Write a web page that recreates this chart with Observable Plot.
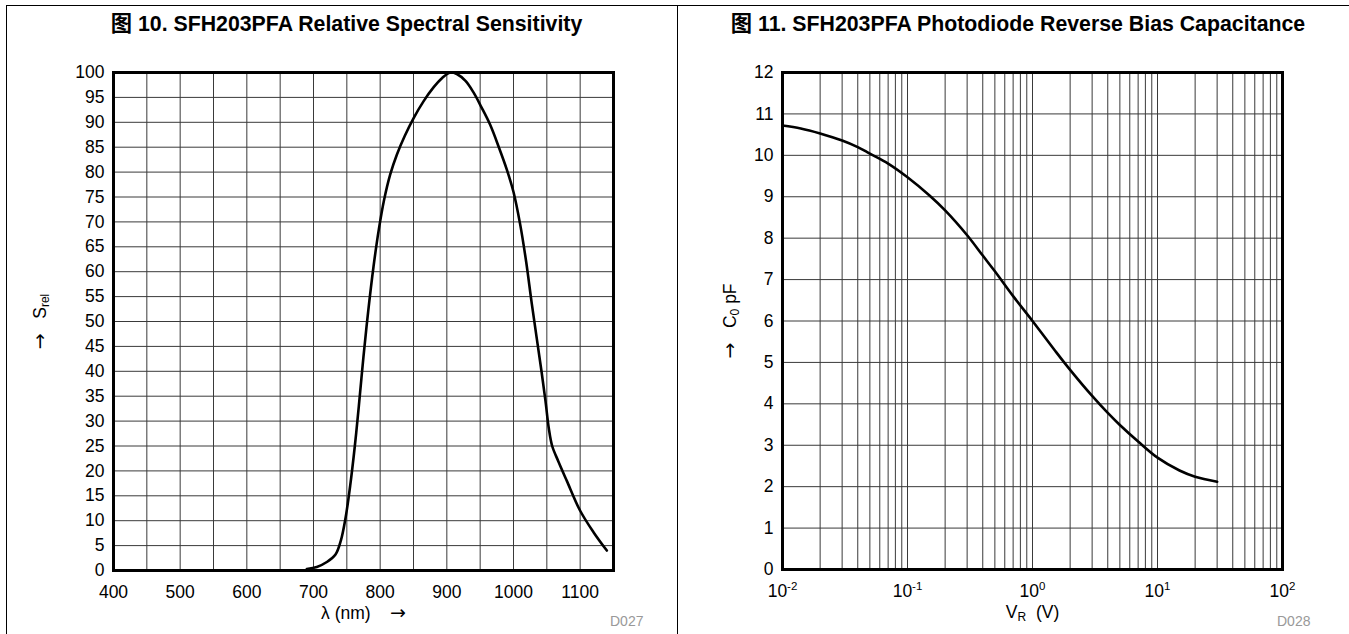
<!DOCTYPE html>
<html>
<head>
<meta charset="utf-8">
<script src="https://cdn.jsdelivr.net/npm/d3@7"></script>
<script src="https://cdn.jsdelivr.net/npm/@observablehq/plot@0.6"></script>
<style>
  html, body { margin: 0; padding: 0; background: #fff; }
  #root { position: relative; width: 1349px; height: 634px; overflow: hidden; background: #fff;
          font-family: "Liberation Sans", Arial, "Noto Sans CJK SC", sans-serif; }
  .panel { position: absolute; top: 0; }
  .title { position: absolute; top: 12px; height: 24px; line-height: 24px; font-size: 21.3px; font-weight: bold;
           text-align: center; white-space: nowrap; color: #000; }
  .code { position: absolute; font-size: 14px; color: #999; line-height: 16px; }
  .hline { position: absolute; height: 1px; background: #000; }
  .vline { position: absolute; width: 1px; background: #000; }
</style>
</head>
<body>
<div id="root"></div>
<script>
// ---------- Data: Figure 10 (relative spectral sensitivity) ----------
const wavelength = [690, 705, 720, 733, 741, 748, 755, 762, 768, 775, 782, 790, 798, 806, 815, 825, 837, 850, 865, 880, 893, 905, 915, 928, 940, 952, 965, 978, 990, 1000, 1010, 1019, 1027, 1035, 1042, 1048, 1053, 1058, 1067, 1080, 1100, 1120, 1140];
const sRel       = [0.3, 0.7, 1.7, 3.2, 6, 10.5, 17, 25, 33, 43, 52, 61, 68.5, 74.5, 79.5, 83.5, 87.3, 90.8, 94.2, 97, 98.9, 100, 99.7, 98.3, 96, 93, 89.5, 85, 80.5, 76, 69.5, 62, 54, 46.5, 40, 34, 28.5, 25, 22, 18, 12, 7.7, 4];
const leftXTicks = [400, 500, 600, 700, 800, 900, 1000, 1100];
const leftYTicks = [0, 5, 10, 15, 20, 25, 30, 35, 40, 45, 50, 55, 60, 65, 70, 75, 80, 85, 90, 95, 100];
const leftXGrid  = [450, 500, 550, 600, 650, 700, 750, 800, 850, 900, 950, 1000, 1050, 1100];
const leftYGrid  = [5, 10, 15, 20, 25, 30, 35, 40, 45, 50, 55, 60, 65, 70, 75, 80, 85, 90, 95];

// ---------- Data: Figure 11 (reverse bias capacitance) ----------
const voltage     = [0.01, 0.014, 0.02, 0.03, 0.04, 0.05, 0.07, 0.1, 0.15, 0.2, 0.3, 0.4, 0.5, 0.7, 1, 1.5, 2, 3, 4, 5, 7, 10, 15, 20, 30];
const capacitance = [10.72, 10.65, 10.53, 10.36, 10.2, 10.04, 9.8, 9.47, 9.03, 8.67, 8.07, 7.58, 7.2, 6.6, 6.0, 5.3, 4.82, 4.19, 3.78, 3.49, 3.09, 2.7, 2.39, 2.24, 2.12];
const rightXTicks = [0.01, 0.1, 1, 10, 100];
const rightYTicks = [0, 1, 2, 3, 4, 5, 6, 7, 8, 9, 10, 11, 12];
const rightXGrid  = [0.02, 0.03, 0.04, 0.05, 0.06, 0.07, 0.08, 0.09, 0.1,
                     0.2, 0.3, 0.4, 0.5, 0.6, 0.7, 0.8, 0.9, 1,
                     2, 3, 4, 5, 6, 7, 8, 9, 10,
                     20, 30, 40, 50, 60, 70, 80, 90];
const rightYGrid  = [1, 2, 3, 4, 5, 6, 7, 8, 9, 10, 11];

// ---------- Text ----------
const leftTitle  = "图 10. SFH203PFA Relative Spectral Sensitivity";
const rightTitle = "图 11. SFH203PFA Photodiode Reverse Bias Capacitance";
const leftXLabel  = "λ (nm)\u00A0\u00A0\u00A0\u00A0→";
const leftYLabel  = "→\u00A0\u00A0\u00A0S_{rel}";
const rightXLabel = "V_{R}\u00A0\u00A0(V)";
const rightYLabel = "→\u00A0\u00A0\u00A0C_{0}\u00A0pF";

const FONT = '"Liberation Sans", Arial, "Noto Sans CJK SC", sans-serif';
const GRID = {stroke: "#3a3a3a", strokeWidth: 1};

const spectral = wavelength.map((w, i) => ({w, s: sRel[i]}));
const capData  = voltage.map((v, i) => ({v, c: capacitance[i]}));

// Convert "_{..}", "^{..}" markers and arrows into styled tspans
function richText(svg) {
  d3.select(svg).selectAll("text").each(function () {
    const el = this;
    if (el.querySelector("tspan")) return;
    const s = el.textContent;
    if (!/[_^]\{|→/.test(s)) return;
    const parts = [];
    const re = /([_^])\{([^}]*)\}|(→)/g;
    let last = 0, m;
    while ((m = re.exec(s))) {
      if (m.index > last) parts.push({t: s.slice(last, m.index), k: "n"});
      if (m[3]) parts.push({t: "→", k: "arrow"});
      else parts.push({t: m[2], k: m[1] === "_" ? "sub" : "sup"});
      last = re.lastIndex;
    }
    if (last < s.length) parts.push({t: s.slice(last), k: "n"});
    el.textContent = "";
    let cur = 0;
    for (const p of parts) {
      const target = p.k === "sub" ? 3 : p.k === "sup" ? -6.5 : 0;
      const ts = d3.select(el).append("tspan").text(p.t);
      if (target !== cur) ts.attr("dy", (target - cur) + "px");
      if (p.k === "sub") ts.attr("font-size", "12px");
      if (p.k === "sup") ts.attr("font-size", "11.5px");
      if (p.k === "arrow") ts.attr("font-size", "19px").attr("font-family", '"DejaVu Sans", sans-serif');
      cur = target;
    }
  });
}

// ---------- Left chart ----------
const left = Plot.plot({
  width: 677, height: 634,
  marginLeft: 113, marginRight: 64, marginTop: 72, marginBottom: 64,
  style: {fontFamily: FONT, fontSize: "17.5px", color: "#000", background: "transparent", overflow: "visible"},
  x: {domain: [400, 1150], ticks: leftXTicks, tickSize: 0, tickPadding: 15, label: null, tickFormat: d => String(d)},
  y: {domain: [0, 100], ticks: leftYTicks, tickSize: 0, tickPadding: 9, label: null, tickFormat: d => String(d)},
  marks: [
    Plot.ruleX(leftXGrid, GRID),
    Plot.ruleY(leftYGrid, GRID),
    Plot.line(spectral, {x: "w", y: "s", stroke: "#000", strokeWidth: 2.6, curve: "catmull-rom"}),
    Plot.frame({stroke: "#000", strokeWidth: 3}),
    Plot.text([leftXLabel], {frameAnchor: "bottom", lineAnchor: "middle", textAnchor: "middle", dy: 42.5, fontSize: 17.5}),
    Plot.text([leftYLabel], {frameAnchor: "left", lineAnchor: "middle", textAnchor: "middle", dx: -73, rotate: -90, fontSize: 17.5})
  ]
});
richText(left);

// ---------- Right chart ----------
const right = Plot.plot({
  width: 671, height: 634,
  marginLeft: 104, marginRight: 67, marginTop: 72, marginBottom: 65,
  style: {fontFamily: FONT, fontSize: "17.5px", color: "#000", background: "transparent", overflow: "visible"},
  x: {type: "log", domain: [0.01, 100], ticks: rightXTicks, tickSize: 0, tickPadding: 15, label: null,
      tickFormat: d => "10^{" + Math.round(Math.log10(d)) + "}"},
  y: {domain: [0, 12], ticks: rightYTicks, tickSize: 0, tickPadding: 9, label: null, tickFormat: d => String(d)},
  marks: [
    Plot.ruleX(rightXGrid, GRID),
    Plot.ruleY(rightYGrid, GRID),
    Plot.line(capData, {x: "v", y: "c", stroke: "#000", strokeWidth: 2.6, curve: "catmull-rom"}),
    Plot.frame({stroke: "#000", strokeWidth: 3}),
    Plot.text([rightXLabel], {frameAnchor: "bottom", lineAnchor: "middle", textAnchor: "middle", dy: 43, fontSize: 17.5}),
    Plot.text([rightYLabel], {frameAnchor: "left", lineAnchor: "middle", textAnchor: "middle", dx: -52, rotate: -90, fontSize: 17.5})
  ]
});
richText(right);

// ---------- Layout ----------
const root = document.getElementById("root");
function add(html) { const d = document.createElement("div"); d.innerHTML = html; const n = d.firstElementChild; root.appendChild(n); return n; }

const lp = add('<div class="panel" style="left:0;width:677px;height:634px"></div>');
lp.appendChild(left);
const rp = add('<div class="panel" style="left:678px;width:671px;height:634px"></div>');
rp.appendChild(right);

const t1 = add('<div class="title" style="left:0;width:693px"></div>'); t1.textContent = leftTitle;
const t2 = add('<div class="title" style="left:678px;width:680px"></div>'); t2.textContent = rightTitle;

add('<div class="code" style="left:610px;top:613px">D027</div>');
add('<div class="code" style="left:1277px;top:613px">D028</div>');

add('<div class="hline" style="left:6px;top:5px;width:1343px"></div>');
add('<div class="vline" style="left:6px;top:5px;height:629px"></div>');
add('<div class="vline" style="left:677px;top:5px;height:629px"></div>');
</script>
</body>
</html>
